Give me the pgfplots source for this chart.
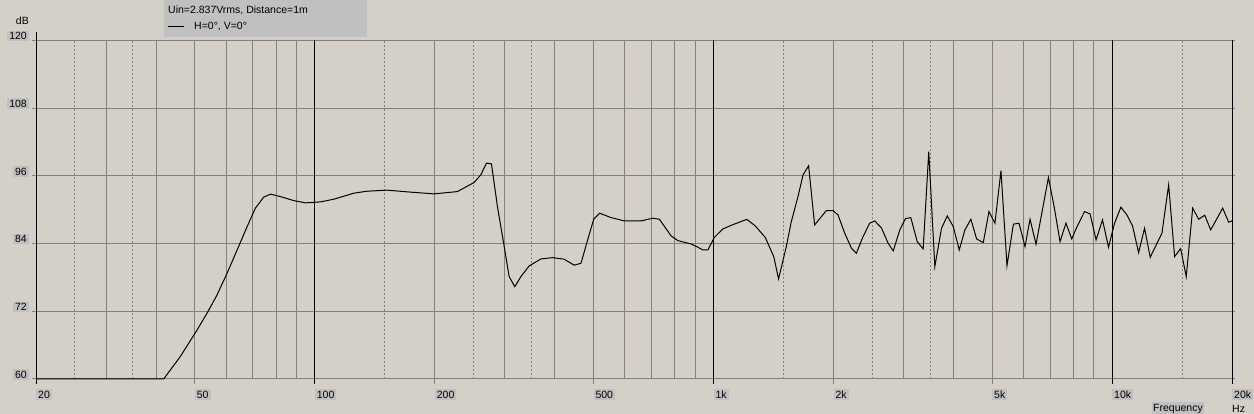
\documentclass[border=0pt]{standalone}
\usepackage{fontspec}
\setmainfont{Liberation Sans}
\usepackage{pgfplots}
\pgfplotsset{compat=1.18}
\definecolor{bgc}{HTML}{D4D0C8}
\definecolor{boxc}{HTML}{C0C0C0}
\definecolor{gridc}{HTML}{808080}
\newcommand{\lbl}{\fontsize{10.5}{12}\selectfont}
\begin{document}
\begin{tikzpicture}[x=1pt,y=1pt,
  gl/.style={draw=gridc, line width=1pt},
  bl/.style={draw=black, line width=1pt}]
\useasboundingbox (0,0) rectangle (1254,414);
\fill[bgc] (0,0) rectangle (1254,414);
\begin{axis}[
  at={(36pt,35pt)}, anchor=south west,
  scale only axis, width=1196pt, height=338.5pt,
  xmode=log, xmin=20, xmax=20000, ymin=60, ymax=120,
  clip=false,
  axis line style={draw=none},
  tick style={draw=none},
  xtick={20,50,100,200,500,1000,2000,5000,10000,20000},
  xticklabels={20,50,100,200,500,1k,2k,5k,10k,20k},
  ytick={60,72,84,96,108,120},
  yticklabels={60,72,84,96,108,120},
  tick label style={font=\lbl, fill=boxc, inner xsep=2pt, inner ysep=1.5pt},
  xticklabel style={anchor=north west, yshift=-10pt},
  yticklabel style={anchor=east, xshift=-7pt, yshift=4.5pt},
]
% grid
\pgfplotsinvokeforeach{60,72,84,96,108,120}{
  \draw[gl] ([xshift=-4pt]axis cs:20,#1) -- ([xshift=3pt]axis cs:20000,#1);
}
\pgfplotsinvokeforeach{30,40,60,70,80,90,300,400,600,700,800,900,3000,4000,6000,7000,8000,9000}{
  \draw[gl] (axis cs:#1,60) -- (axis cs:#1,120);
}
\pgfplotsinvokeforeach{50,200,500,2000,5000}{
  \draw[gl] ([yshift=-5pt]axis cs:#1,60) -- (axis cs:#1,120);
}
\pgfplotsinvokeforeach{25,35,150,250,350,1500,2500,3500,15000}{
  \draw[gl, dash pattern=on 2pt off 2pt] (axis cs:#1,60) -- (axis cs:#1,120);
}
\pgfplotsinvokeforeach{100,1000,10000,20000}{
  \draw[bl] ([yshift=-5pt]axis cs:#1,60) -- (axis cs:#1,120);
}
\draw[bl] ([yshift=-5pt]axis cs:20,60) -- ([yshift=8pt]axis cs:20,120);

% H=0, V=0
\addplot[black, line width=1pt, mark=none] coordinates {
(20,60) (41.8,60) (46.0,63.96) (50.7,68.69) (53.7,71.65) (56.9,74.90)
(60.3,78.75) (63.9,82.88) (67.7,87.01) (71.0,90.28) (74.5,92.23) (77.5,92.76)
(82.1,92.33) (88.6,91.62) (94.8,91.22) (103.4,91.39) (111.7,91.87) (125.4,92.94)
(135.5,93.29) (152.1,93.47) (170.8,93.17) (199.2,92.81) (228.0,93.22) (251.0,94.82)
(261.0,96.18) (269.8,98.26) (277.6,98.13) (287.4,90.56) (298.8,83.47) (307.5,78.14)
(317.7,76.37) (329.0,78.14) (345.2,80.04) (369.3,81.28) (395.2,81.51) (422.6,81.23)
(447.7,80.17) (465.6,80.52) (483.9,84.65) (501.0,88.32) (518.8,89.39) (553.6,88.61)
(598.1,88.02) (658.8,88.02) (704.8,88.50) (732.2,88.32) (783.6,85.36) (814.5,84.53)
(879.6,83.94) (914.3,83.36) (941.1,82.88) (968.8,82.88) (1006.6,85.13) (1056.8,86.60)
(1115,87.31) (1212.8,88.29) (1273.7,87.14) (1349.5,85.10) (1417.5,81.69) (1457.6,77.74)
(1524,83.47) (1568.8,87.90) (1630.6,92.33) (1678.6,96.18) (1733.8,97.78) (1795,87.31)
(1920.6,89.85) (1996.4,89.85) (2054.5,89.09) (2136,85.84) (2220,83.18) (2284,82.29)
(2374,85.24) (2467,87.62) (2540,88.02) (2640,86.78) (2744,84.07) (2826,82.70)
(2936,86.43) (3034,88.43) (3128,88.61) (3246,84.35) (3360,83.06) (3470,100.31)
(3594,79.92) (3736,86.73) (3862,88.91) (3998,87.01) (4138,82.88) (4276,86.43)
(4426,88.32) (4574,84.83) (4754,84.17) (4912,89.67) (5086,87.62) (5266,96.94)
(5452,80.09) (5658,87.44) (5844,87.62) (6050,83.47) (6228,88.32) (6448,83.89)
(6926,95.70) (7170,90.28) (7408,84.35) (7664,87.62) (7926,84.83) (8158,86.91)
(8530,89.67) (8812,89.26) (9120,84.65) (9466,88.20) (9800,83.36) (10148,87.62)
(10524,90.45) (10896,89.09) (11258,87.14) (11660,82.40) (12068,86.73) (12468,81.58)
(13342,85.84) (13870,94.41) (14356,81.69) (14864,83.11) (15354,78.14) (15934,90.28)
(16494,88.32) (17080,89.03) (17684,86.43) (18952,90.28) (19622,87.79) (20000,88.02)
};
\end{axis}
% legend and labels
\fill[boxc] (164,377) rectangle (367,414);
\node[anchor=west, inner sep=0pt, font=\lbl] at (168,404) {Uin=2.837Vrms, Distance=1m};
\draw[bl] (168,387) -- (184,387);
\node[anchor=west, inner sep=0pt, font=\lbl] at (194,387) {H=0°, V=0°};
\node[anchor=east, inner sep=0pt, font=\lbl] at (29,393) {dB};
\node[anchor=west, fill=boxc, inner xsep=1pt, inner ysep=1.5pt, font=\lbl] at (1152,5.5) {Frequency};
\node[anchor=west, inner sep=0pt, font=\lbl] at (1232,5.5) {Hz};
\end{tikzpicture}
\end{document}
